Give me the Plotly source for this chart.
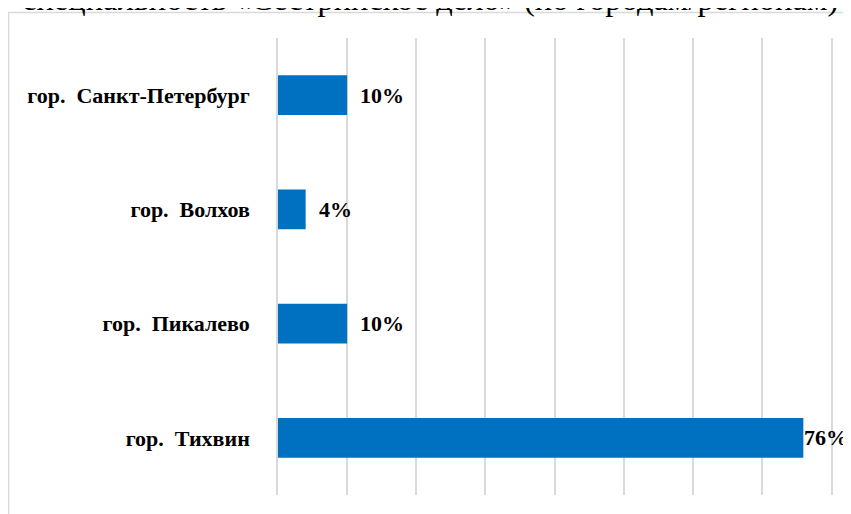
import plotly.graph_objects as go

categories = ["гор.\u00a0 Санкт-Петербург", "гор.\u00a0 Волхов", "гор.\u00a0 Пикалево", "гор.\u00a0 Тихвин"]
values = [0.10, 0.04, 0.10, 0.76]
title_text = "специальность «Сестринское дело» (по городам/регионам)"

# page has an 8px body margin, so the figure is 8px smaller and offset
OFF = 8
W, H = 851 - OFF, 514 - OFF
L, R, T, B = 278 - OFF, 851 - 831, 38 - OFF, 514 - 495
pw, ph = W - L - R, H - T - B

def px_x(p):
    return (p - OFF - L) / pw

def px_y(p):
    return (H - B - (p - OFF)) / ph

fig = go.Figure()
fig.add_trace(go.Bar(
    x=values, y=categories, orientation="h",
    marker=dict(color="#0070C0", line=dict(width=0)),
    width=0.35, hoverinfo="skip",
))

serif = "Liberation Serif"
annotations = []
for v, c in zip(values, categories):
    shift = 11 if v < 0.7 else -1
    annotations.append(dict(
        x=v, y=c, xref="x", yref="y", text=f"<b>{round(v*100)}%</b>",
        xanchor="left", yanchor="middle", xshift=shift, showarrow=False,
        font=dict(family=serif, size=22, color="#000000"),
    ))
annotations.append(dict(
    x=px_x(430), y=px_y(19), xref="paper", yref="paper", text=title_text,
    xanchor="center", yanchor="bottom", showarrow=False,
    font=dict(family=serif, size=32.5, color="#000000"),
))

shapes = [
    dict(type="line", xref="paper", yref="paper", x0=px_x(8.5), x1=px_x(8.5), y0=px_y(12), y1=px_y(530),
         line=dict(color="#d9d9d9", width=1.5)),
    dict(type="line", xref="paper", yref="paper", x0=px_x(8), x1=px_x(870), y0=px_y(12.5), y1=px_y(12.5),
         line=dict(color="#d9d9d9", width=1.5)),
]

fig.update_layout(
    width=W, height=H,
    margin=dict(l=L, r=R, t=T, b=B, pad=0),
    paper_bgcolor="white", plot_bgcolor="white",
    showlegend=False,
    annotations=annotations, shapes=shapes,
    xaxis=dict(range=[0, 0.8], dtick=0.1, showticklabels=False, showgrid=True,
               gridcolor="#d9d9d9", gridwidth=1.5, zeroline=False, showline=False, fixedrange=True),
    yaxis=dict(autorange="reversed", showgrid=False, zeroline=False,
               showline=True, mirror=True, linecolor="#d9d9d9", linewidth=1.5, ticks="",
               ticklabelstandoff=22,
               tickvals=categories, ticktext=[f"<b>{c}</b>" for c in categories],
               tickfont=dict(family=serif, size=22, color="#000000")),
)
fig.write_html("out.html")
